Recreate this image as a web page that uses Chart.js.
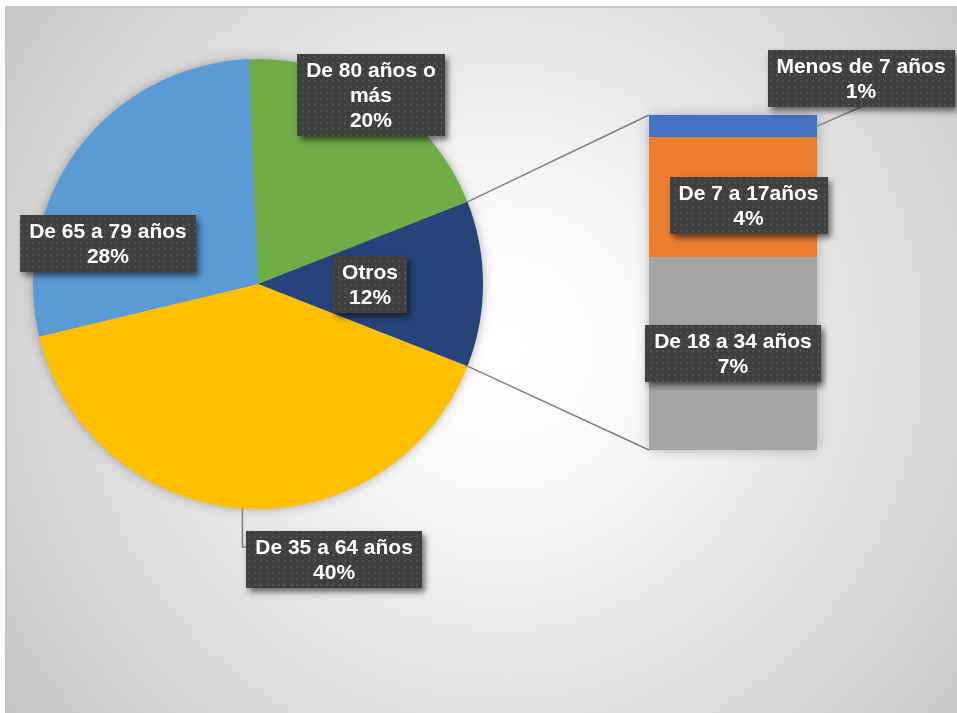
<!DOCTYPE html>
<html><head><meta charset="utf-8">
<script src="https://cdn.jsdelivr.net/npm/chart.js@4/dist/chart.umd.min.js"></script>
<style>
html,body{margin:0;padding:0;background:#fff;width:957px;height:713px;overflow:hidden}
#bg{position:absolute;left:5px;top:6px;width:952px;height:707px;border-left:2px solid #c4c4c4;border-top:2px solid #c4c4c4;
 background:radial-gradient(circle farthest-corner at 52% 48%, #ffffff 0%, #fafafa 22%, #c6c6c6 100%)}
canvas{position:absolute;left:0;top:0}
</style></head>
<body>
<div id="bg"></div>
<canvas id="pie" width="957" height="713"></canvas>
<canvas id="bar" width="957" height="713"></canvas>
<script>
// ---- data ----
const pieCategories = ['De 80 años o más', 'Otros', 'De 35 a 64 años', 'De 65 a 79 años'];
const pieLabelLines = [['De 80 años o', 'más'], ['Otros'], ['De 35 a 64 años'], ['De 65 a 79 años']];
const pieValues = [19.7, 11.9, 40.3, 28.1];
const pieColors = ['#70AD47', '#264478', '#FFC000', '#5B9BD5'];

const barCategories = ['De 18 a 34 años', 'De 7 a 17años', 'Menos de 7 años'];
const barValues = [6.9, 4.3, 0.8];
const barColors = ['#A5A5A5', '#ED7D31', '#4472C4'];

// ---- layout (style only) ----
const pieLabelOffset = [[0.502, -0.84], [0.498, 0], [0.338, 1.224], [-0.667, -0.18]]; // in radius units from centre
const barLabelOffset = [[0, 0], [15.5, 8.5], [128, -47.5]]; // px from segment centre
const FONT = 'bold 21px "Liberation Sans", Arial, sans-serif';
const LH = 25;

const pct = v => Math.round(v) + '%';

// dotted pattern for label boxes
const pc = document.createElement('canvas'); pc.width = 6; pc.height = 6;
const pctx = pc.getContext('2d');
pctx.fillStyle = 'rgba(255,255,255,0.09)'; pctx.fillRect(2, 2, 2, 2);

function measureBox(ctx, cx, cy, lines) {
  ctx.save(); ctx.font = FONT;
  const w = Math.round(Math.max(...lines.map(l => ctx.measureText(l).width)) + 18);
  ctx.restore();
  const h = lines.length * LH + 7;
  return { x: Math.round(cx - w / 2), y: Math.round(cy - h / 2), w, h, cx, cy };
}
function drawBox(ctx, b, lines) {
  ctx.save();
  ctx.shadowColor = 'rgba(0,0,0,0.55)'; ctx.shadowBlur = 6; ctx.shadowOffsetX = 3; ctx.shadowOffsetY = 4;
  ctx.fillStyle = '#404040'; ctx.fillRect(b.x, b.y, b.w, b.h);
  ctx.shadowColor = 'transparent';
  ctx.fillStyle = ctx.createPattern(pc, 'repeat'); ctx.fillRect(b.x, b.y, b.w, b.h);
  ctx.font = FONT; ctx.fillStyle = '#ffffff'; ctx.textAlign = 'center'; ctx.textBaseline = 'middle';
  lines.forEach((l, i) => ctx.fillText(l, b.cx, b.y + 3.5 + LH * i + LH / 2 + 1));
  ctx.restore();
}

const pieDecor = {
  id: 'pieDecor',
  beforeDatasetsDraw(chart) {
    const a = chart.getDatasetMeta(0).data[0];
    const ctx = chart.ctx;
    ctx.save();
    ctx.shadowColor = 'rgba(0,0,0,0.35)'; ctx.shadowBlur = 12;
    ctx.fillStyle = '#999';
    ctx.beginPath(); ctx.arc(a.x, a.y, a.outerRadius - 1, 0, Math.PI * 2); ctx.fill();
    ctx.restore();
  },
  afterDatasetsDraw(chart) {
    const ctx = chart.ctx;
    const arcs = chart.getDatasetMeta(0).data;
    arcs.forEach((a, i) => {
      const r = a.outerRadius;
      const cx = a.x + pieLabelOffset[i][0] * r, cy = a.y + pieLabelOffset[i][1] * r;
      const lines = pieLabelLines[i].concat([pct(pieValues[i])]);
      const b = measureBox(ctx, cx, cy, lines);
      if (i === 2) { // leader line
        const mid = (a.startAngle + a.endAngle) / 2;
        const px = a.x + r * Math.cos(mid), py = a.y + r * Math.sin(mid);
        ctx.save(); ctx.strokeStyle = '#7f7f7f'; ctx.lineWidth = 1.5;
        ctx.beginPath(); ctx.moveTo(px, py); ctx.lineTo(px, b.y + 16); ctx.lineTo(b.x, b.y + 16); ctx.stroke();
        ctx.restore();
      }
      drawBox(ctx, b, lines);
    });
  }
};

const pieChart = new Chart(document.getElementById('pie'), {
  type: 'pie',
  data: { labels: pieCategories, datasets: [{ data: pieValues, backgroundColor: pieColors, borderWidth: 0 }] },
  options: {
    responsive: false, animation: false, devicePixelRatio: 1,
    rotation: 90 - pieValues[1] * 3.6 / 2 - pieValues[0] * 3.6,
    layout: { padding: { left: 33, right: 474, top: 59, bottom: 204 } },
    plugins: { legend: { display: false }, tooltip: { enabled: false } }
  },
  plugins: [pieDecor]
});

const barDecor = {
  id: 'barDecor',
  beforeDatasetsDraw(chart) {
    const top = chart.getDatasetMeta(barValues.length - 1).data[0];
    const bot = chart.getDatasetMeta(0).data[0];
    const ctx = chart.ctx;
    ctx.save();
    ctx.shadowColor = 'rgba(0,0,0,0.3)'; ctx.shadowBlur = 12;
    ctx.fillStyle = '#999';
    ctx.fillRect(top.x - top.width / 2 + 1, top.y + 1, top.width - 2, bot.base - top.y - 2);
    ctx.restore();
  },
  afterDatasetsDraw(chart) {
    const ctx = chart.ctx;
    const top = chart.getDatasetMeta(barValues.length - 1).data[0];
    const bot = chart.getDatasetMeta(0).data[0];
    const left = top.x - top.width / 2, right = top.x + top.width / 2;
    // connectors from pie "Otros" slice
    const o = pieChart.getDatasetMeta(0).data[1];
    ctx.save(); ctx.strokeStyle = '#7f7f7f'; ctx.lineWidth = 1.5;
    ctx.beginPath();
    ctx.moveTo(o.x + o.outerRadius * Math.cos(o.startAngle), o.y + o.outerRadius * Math.sin(o.startAngle));
    ctx.lineTo(left, top.y);
    ctx.moveTo(o.x + o.outerRadius * Math.cos(o.endAngle), o.y + o.outerRadius * Math.sin(o.endAngle));
    ctx.lineTo(left, bot.base);
    ctx.stroke(); ctx.restore();
    barValues.forEach((v, i) => {
      const el = chart.getDatasetMeta(i).data[0];
      const segCy = (el.y + el.base) / 2;
      const cx = el.x + barLabelOffset[i][0], cy = segCy + barLabelOffset[i][1];
      const lines = [barCategories[i], pct(v)];
      const b = measureBox(ctx, cx, cy, lines);
      if (i === barValues.length - 1) {
        ctx.save(); ctx.strokeStyle = '#7f7f7f'; ctx.lineWidth = 1.5;
        ctx.beginPath(); ctx.moveTo(right, segCy); ctx.lineTo(b.cx, b.y + b.h); ctx.stroke(); ctx.restore();
      }
      drawBox(ctx, b, lines);
    });
  }
};

new Chart(document.getElementById('bar'), {
  type: 'bar',
  data: {
    labels: ['Otros'],
    datasets: barValues.map((v, i) => ({ label: barCategories[i], data: [v], backgroundColor: barColors[i], borderWidth: 0, barPercentage: 1, categoryPercentage: 1 }))
  },
  options: {
    responsive: false, animation: false, devicePixelRatio: 1,
    layout: { padding: { left: 649, right: 140, top: 115, bottom: 263 } },
    scales: {
      x: { stacked: true, display: false },
      y: { stacked: true, display: false, min: 0, max: barValues.reduce((s, v) => s + v, 0) }
    },
    plugins: { legend: { display: false }, tooltip: { enabled: false } }
  },
  plugins: [barDecor]
});
</script>
</body></html>
